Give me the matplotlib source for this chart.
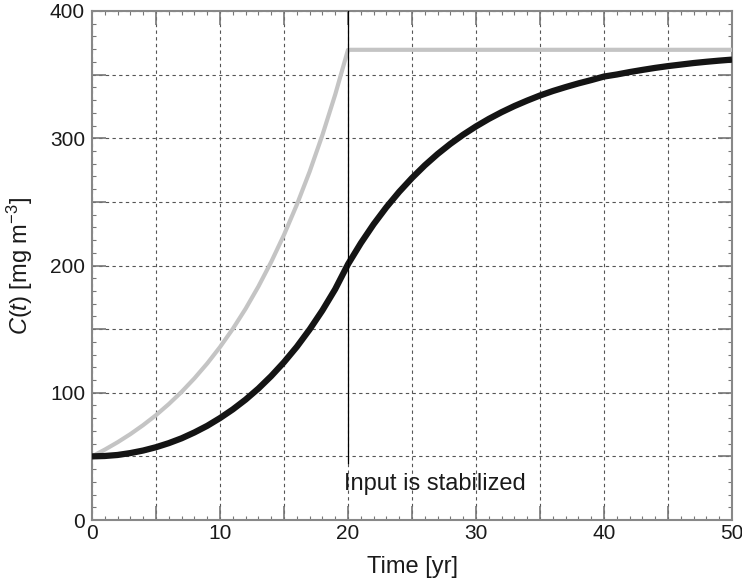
import matplotlib
matplotlib.use("Agg")
import matplotlib.pyplot as plt
from matplotlib.ticker import MultipleLocator, FuncFormatter

plt.rcParams["font.family"] = ["Liberation Sans", "DejaVu Sans"]
plt.rcParams["mathtext.fontset"] = "custom"
plt.rcParams["mathtext.rm"] = "Liberation Sans"
plt.rcParams["mathtext.it"] = "Liberation Sans:italic"

# Input concentration (grey): grows until year 20, then held constant
input_years = [0, 1, 2, 3, 4, 5, 6, 7, 8, 9, 10, 11, 12, 13, 14, 15, 16, 17, 18, 19, 20, 50]
input_conc = [50.0, 55.3, 61.1, 67.5, 74.6, 82.4, 91.1, 100.7, 111.3, 123.0, 135.9,
              150.2, 166.0, 183.5, 202.8, 224.1, 247.7, 273.7, 302.5, 334.3, 369.5, 369.5]

# Response concentration C(t) (black)
resp_years = list(range(0, 51))
resp_conc = [50.0, 50.3, 51.1, 52.6, 54.6, 57.2, 60.4, 64.2, 68.8, 74.0, 80.1,
             86.9, 94.6, 103.3, 113.1, 124.0, 136.1, 149.7, 164.7, 181.4, 201.0,
             217.5, 232.4, 245.8, 257.9, 268.8, 278.7, 287.6, 295.6, 302.8, 309.3,
             315.2, 320.5, 325.3, 329.6, 333.6, 337.1, 340.2, 343.1, 345.7, 348.5,
             350.1, 352.0, 353.7, 355.3, 356.7, 357.9, 359.1, 360.1, 361.0, 361.8]

stab_year = 20
stab_line = [45, 400]
annotation = "Input is stabilized"

fig = plt.figure(figsize=(7.42, 5.88), dpi=100)
ax = fig.add_axes([92 / 742, 1 - 520 / 588, 640 / 742, 509 / 588])

ax.plot(input_years, input_conc, color="#c4c4c4", lw=3.0, solid_capstyle="butt", zorder=3)
ax.plot(resp_years, resp_conc, color="#141414", lw=4.5, solid_capstyle="butt", zorder=4)
ax.plot([stab_year, stab_year], stab_line, color="black", lw=0.9, zorder=5)
ax.text(stab_year - 0.3, 28, annotation, ha="left", va="center", fontsize=17, color="#1a1a1a")

ax.set_xlim(0, 50)
ax.set_ylim(0, 400)

ax.xaxis.set_major_locator(MultipleLocator(5))
ax.xaxis.set_minor_locator(MultipleLocator(1))
ax.yaxis.set_major_locator(MultipleLocator(50))
ax.yaxis.set_minor_locator(MultipleLocator(10))
ax.xaxis.set_major_formatter(FuncFormatter(lambda v, p: f"{v:.0f}" if round(v) % 10 == 0 else ""))
ax.yaxis.set_major_formatter(FuncFormatter(lambda v, p: f"{v:.0f}" if round(v) % 100 == 0 else ""))

ax.grid(True, which="major", color="#555555", lw=0.8, linestyle=(0, (3, 3)))
ax.tick_params(which="both", direction="in", top=True, right=True, color="#777777",
               labelsize=15, labelcolor="#1a1a1a")
ax.tick_params(which="major", length=10, width=1.2)
ax.tick_params(axis="x", which="major", pad=3)
ax.tick_params(axis="y", which="major", pad=5)
ax.tick_params(which="minor", length=3, width=0.8)
for s in ax.spines.values():
    s.set_color("#888888")
    s.set_linewidth(1.5)

ax.set_xlabel("Time [yr]", fontsize=17, color="#1a1a1a")
ax.set_ylabel("$C(t)$ [mg m$^{-3}$]", fontsize=17, color="#1a1a1a")
ax.xaxis.set_label_coords(0.5, -(567 - 520) / 509, transform=ax.transAxes)
ax.yaxis.set_label_coords(-(92 - 20) / 640, 0.5, transform=ax.transAxes)
ax.xaxis.label.set_va("center")
ax.yaxis.label.set_va("center")

fig.savefig("out.png", dpi=100)
